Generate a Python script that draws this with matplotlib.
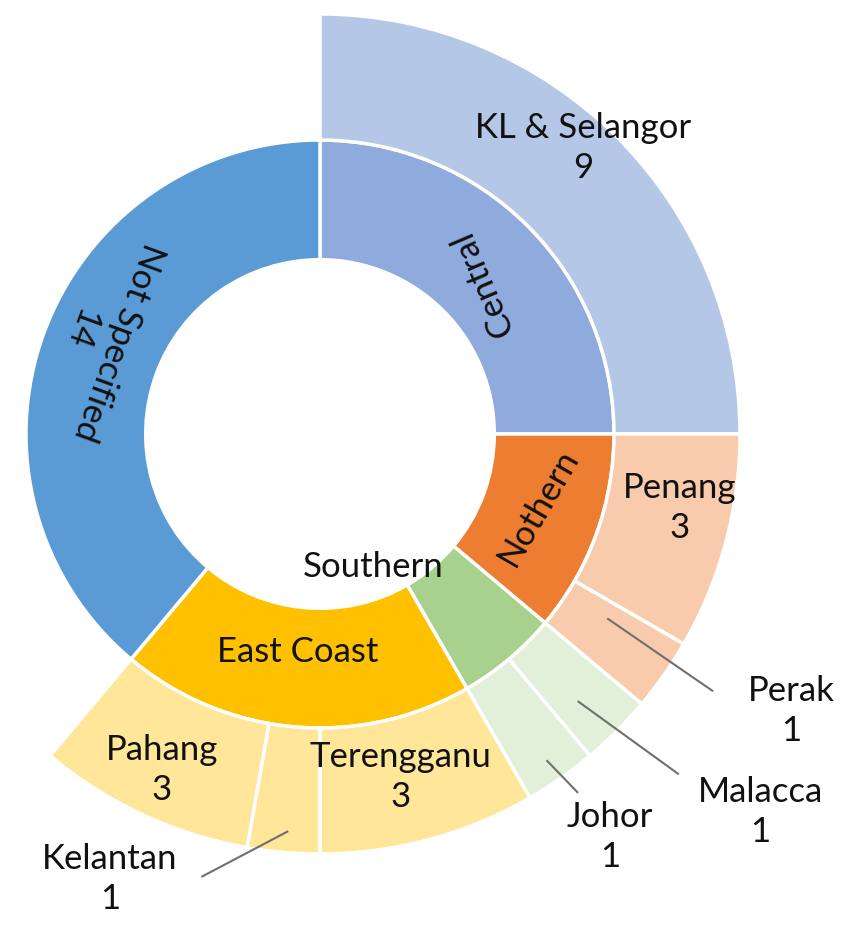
import numpy as np
import matplotlib.pyplot as plt

plt.rcParams['font.family'] = ['Lato', 'DejaVu Sans']

# Inner ring: regions
regions = ["Central", "Nothern", "Southern", "East Coast", "Not Specified"]
region_values = [9, 4, 2, 7, 14]
region_colors = ["#8FAADC", "#ED7D31", "#A9D18E", "#FFC000", "#5B9BD5"]

# Outer ring: states (Not Specified has no outer ring)
states = ["KL & Selangor", "Penang", "Perak", "Malacca", "Johor", "Terengganu", "Kelantan", "Pahang"]
state_values = [9, 3, 1, 1, 1, 3, 1, 3]
state_colors = ["#B4C7E7", "#F8CBAD", "#F8CBAD", "#E2F0D9", "#E2F0D9", "#FFE699", "#FFE699", "#FFE699"]

total = sum(region_values)


def mid_angles(vals):
    c = np.cumsum([0] + list(vals))
    return [90 - 360 * (c[i] + vals[i] / 2) / total for i in range(len(vals))]


def polar(deg, r):
    a = np.radians(deg)
    return r * np.cos(a), r * np.sin(a)


fig = plt.figure(figsize=(8.51, 9.28), dpi=100)
ax = fig.add_axes([0, 0, 1, 1])

edge = dict(edgecolor='white', linewidth=2.5)
ax.pie(region_values, radius=0.70, startangle=90, counterclock=False,
       colors=region_colors, wedgeprops=dict(width=0.285, **edge))
outer, _ = ax.pie(state_values + [region_values[-1]], radius=1.0, startangle=90,
                  counterclock=False, colors=state_colors + ['white'],
                  wedgeprops=dict(width=0.30, **edge))
outer[-1].set_visible(False)

fs = 25
txt = dict(fontsize=fs, color='#111111', ha='center', va='center',
           rotation_mode='anchor', linespacing=1.3)

# inner labels: (radius, angle shift from mid, rotation)
inner_pos = {"Central": (0.53, -2, 113), "Nothern": (0.547, 1.7, 60),
             "Southern": (0.339, -18, 0), "East Coast": (0.519, -0.8, 0),
             "Not Specified": (0.576, -4.4, -110)}
for name, v, m in zip(regions, region_values, mid_angles(region_values)):
    r, d, rot = inner_pos[name]
    label = name + "\n" + str(v) if name == "Not Specified" else name
    ax.text(*polar(m + d, r), label, rotation=rot, **txt)

# outer labels inside wedges
inside_pos = {"KL & Selangor": (0.927, 2.5), "Penang": (0.874, 3.5),
              "Terengganu": (0.837, -1.7), "Pahang": (0.882, -0.3)}
# callouts: (line start r, angle), (line end r, angle), (text r, angle)
callout_pos = {"Perak": ((0.815, 2.3), (1.116, 1.8), (1.30, 4.6)),
               "Malacca": ((0.886, -1.0), (1.175, 1.5), (1.38, 4.4)),
               "Johor": ((0.948, -0.2), (1.05, 0.7), (1.18, 0.8)),
               "Kelantan": ((0.95, 0.3), (1.09, -9.9), (1.17, -20.3))}
for name, v, m in zip(states, state_values, mid_angles(state_values)):
    label = f"{name}\n{v}"
    if name in inside_pos:
        r, d = inside_pos[name]
        ax.text(*polar(m + d, r), label, **txt)
    else:
        (r0, d0), (r1, d1), (rt, dt) = callout_pos[name]
        x0, y0 = polar(m + d0, r0)
        x1, y1 = polar(m + d1, r1)
        ax.plot([x0, x1], [y0, y1], color='#6f6f6f', lw=1.5)
        ax.text(*polar(m + dt, rt), label, **txt)

ax.set_xlim(-320 / 420, 531 / 420)
ax.set_ylim(-493 / 420, 435 / 420)
ax.set_aspect('equal')
ax.axis('off')

plt.savefig('out.png', dpi=100)
